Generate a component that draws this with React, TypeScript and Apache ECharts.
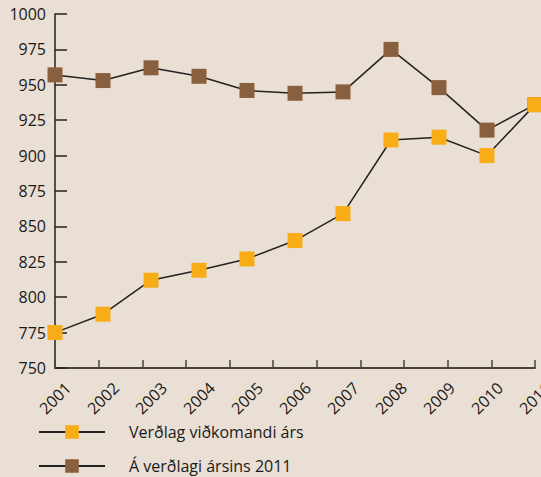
import React, { useEffect, useRef } from "react";
import * as echarts from "echarts";

const years = ["2001", "2002", "2003", "2004", "2005", "2006", "2007", "2008", "2009", "2010", "2011"];
const currentPrices = [775, 788, 812, 819, 827, 840, 859, 911, 913, 900, 936];
const prices2011 = [957, 953, 962, 956, 946, 944, 945, 975, 948, 918, 936];
const seriesNames = ["Verðlag viðkomandi árs", "Á verðlagi ársins 2011"];

const FONT = "'Open Sans', 'Noto Sans', sans-serif";

export default function App() {
  const ref = useRef<HTMLDivElement>(null);
  useEffect(() => {
    if (!ref.current) return;
    const chart = echarts.init(ref.current, undefined, { renderer: "svg" });
    chart.setOption({
      animation: false,
      backgroundColor: "#eadfd4",
      grid: { left: 55, right: 6, top: 14, bottom: 109, containLabel: false, outerBoundsMode: "none" },
      legend: {
        orient: "vertical",
        left: 38,
        top: 424,
        height: 53,
        padding: 0,
        itemWidth: 66,
        itemHeight: 17,
        itemGap: 18,
        textStyle: { fontFamily: FONT, fontSize: 16, color: "#1a1a1a", padding: [0, 0, 0, 19] },
        data: seriesNames,
      },
      xAxis: [
        {
          type: "category",
          data: years,
          boundaryGap: false,
          axisLine: { show: false },
          axisTick: { show: false },
          axisLabel: {
            rotate: 45,
            align: "center",
            verticalAlign: "middle",
            margin: 30,
            fontFamily: FONT,
            fontSize: 16,
            color: "#1a1a1a",
            interval: 0,
          },
        },
        {
          type: "category",
          data: years,
          boundaryGap: true,
          position: "bottom",
          axisLine: { show: true, lineStyle: { color: "#4a4440", width: 2 } },
          axisTick: { show: true, inside: true, length: 8, lineStyle: { color: "#4a4440", width: 1.5 } },
          axisLabel: { show: false },
        },
      ],
      yAxis: {
        type: "value",
        min: 750,
        max: 1000,
        interval: 25,
        splitLine: { show: false },
        axisLine: { show: true, lineStyle: { color: "#222", width: 1.5 } },
        axisTick: { show: true, inside: true, length: 12, lineStyle: { color: "#222", width: 1.5 } },
        axisLabel: {
          margin: 9,
          fontFamily: FONT,
          fontSize: 16,
          color: "#1a1a1a",
          formatter: (v: number) => String(v),
        },
      },
      series: [
        {
          name: seriesNames[0],
          type: "line",
          data: currentPrices,
          symbol: "rect",
          symbolSize: 15,
          lineStyle: { color: "#222", width: 1.5 },
          itemStyle: { color: "#f8ac17" },
          z: 3,
        },
        {
          name: seriesNames[1],
          type: "line",
          data: prices2011,
          symbol: "rect",
          symbolSize: 15,
          lineStyle: { color: "#222", width: 1.5 },
          itemStyle: { color: "#8a5f3e" },
          z: 2,
        },
      ],
    });
    return () => chart.dispose();
  }, []);
  return <div ref={ref} style={{ width: 541, height: 477, position: "absolute", left: 0, top: 0 }} />;
}
